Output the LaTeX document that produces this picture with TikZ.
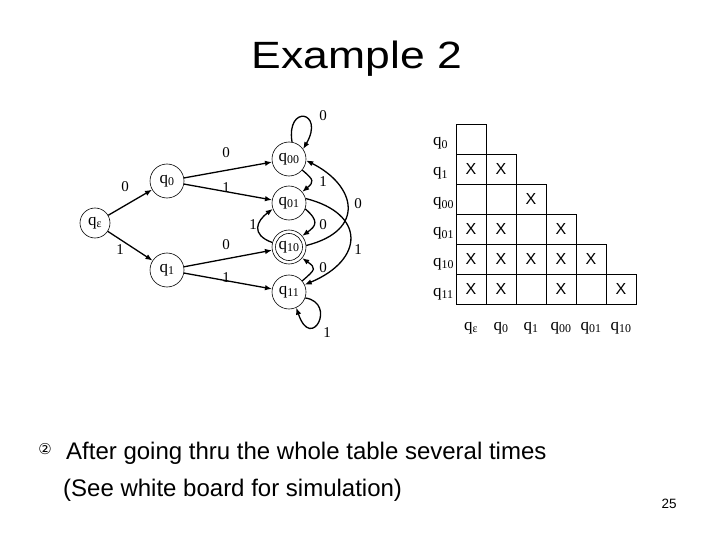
\documentclass[tikz,border=0pt]{standalone}
\usepackage{fontspec}
\usepackage{graphicx}
\setmainfont{Liberation Serif}
\newfontfamily\arialf{Liberation Sans}
\newfontfamily\dejavuf{DejaVu Sans}
\usetikzlibrary{arrows.meta}
\tikzset{
  stnode/.style={circle,draw,line width=0.6pt,minimum size=34pt,inner sep=0pt,font=\fontsize{17}{17}\selectfont},
  arr/.style={-{Latex[length=7pt,width=5.5pt]},line width=1.3pt},
  lbl/.style={font=\fontsize{15}{15}\selectfont,inner sep=0pt},
  rowlbl/.style={font=\fontsize{17}{17}\selectfont,inner sep=0pt,anchor=base west},
  collbl/.style={font=\fontsize{17}{17}\selectfont,inner sep=0pt,anchor=base},
  cell/.style={draw,line width=0.6pt,minimum size=30pt,inner sep=0pt,font=\arialf\fontsize{16}{16}\selectfont},
}
\newcommand{\qs}[1]{q\textsubscript{#1}}
\begin{document}
\begin{tikzpicture}[x=1pt,y=1pt]
\useasboundingbox (0,0) rectangle (720,-540);
% title
\node[font=\arialf\fontsize{38}{38}\selectfont,anchor=base] (title) at (357,-69) {\scalebox{1.17}[1]{Example 2}};
% states
\node[stnode,minimum size=30pt] (qe) at (95,-223) {\qs{ε}};
\node[stnode] (q0) at (167,-181) {\qs{0}};
\node[stnode] (q1) at (167,-270) {\qs{1}};
\node[stnode] (q00) at (289,-159) {\qs{00}};
\node[stnode] (q01) at (289,-203) {\qs{01}};
\node[stnode] (q10) at (289,-247) {\qs{10}};
\node[stnode] (q11) at (289,-292) {\qs{11}};
\draw[line width=0.6pt] (q10.center) circle (13.5pt);
% edges
\draw[arr] (qe) -- (q0);
\draw[arr] (qe) -- (q1);
\draw[arr] (q0) -- (q00);
\draw[arr] (q0) -- (q01);
\draw[arr] (q1) -- (q10);
\draw[arr] (q1) -- (q11);
\draw[arr] (q00.80) .. controls +(-6,38) and +(22,38) .. (q00.35);
\draw[arr] (q00.-40) .. controls +(12,-10) and +(12,10) .. (q01.40);
\draw[arr] (q01.-20) .. controls +(14,-12) and +(14,10) .. (q10.40);
\draw[arr] (q11.40) .. controls +(14,12) and +(14,-10) .. (q10.-40);
\draw[arr] (q10.165) .. controls +(-22,8) and +(-16,-12) .. (q01.-160);
\draw[arr] (q01.15) .. controls +(60,-15) and +(60,25) .. (q11.25);
\draw[arr] (q10.5) .. controls +(60,15) and +(50,-25) .. (q00.-5);
\draw[arr] (q11.-20) .. controls +(32,-5) and +(15,-45) .. (q11.-65);
% edge labels
\node[lbl] (l1) at (125,-187) {0};
\node[lbl] (l2) at (120,-250) {1};
\node[lbl] (l3) at (226,-153) {0};
\node[lbl] (l4) at (226,-188) {1};
\node[lbl] (l5) at (226,-245) {0};
\node[lbl] (l6) at (226,-278) {1};
\node[lbl] (l7) at (323,-116) {0};
\node[lbl] (l8) at (323,-182) {1};
\node[lbl] (l9) at (323,-225) {0};
\node[lbl] (l10) at (253,-225) {1};
\node[lbl] (l11) at (323,-268) {0};
\node[lbl] (l12) at (358,-204) {0};
\node[lbl] (l13) at (358,-250) {1};
\node[lbl] (l14) at (327,-333) {1};
% table
\foreach \lab [count=\i from 0] in {\qs{0},\qs{1},\qs{00},\qs{01},\qs{10},\qs{11}} {
  \node[rowlbl] (r\i) at (433,-146-30*\i) {\lab};
  \foreach \j in {0,...,\i} {
    \node[cell] (c\i\j) at (471+30*\j,-139-30*\i) {};
  }
}
\foreach \lab [count=\j from 0] in {\qs{ε},\qs{0},\qs{1},\qs{00},\qs{01},\qs{10}} {
  \node[collbl] (k\j) at (471+30*\j,-330) {\lab};
}
\foreach \c in {10,11,22,30,31,33,40,41,42,43,44,50,51,53,55} {
  \node[font=\arialf\fontsize{16}{16}\selectfont] at (c\c) {X};
}
% text
\node[font=\dejavuf\fontsize{15}{15}\selectfont] (bul) at (45,-449) {②};
\node[font=\arialf\fontsize{24}{24}\selectfont,anchor=base west,inner sep=0pt] (t1) at (66,-459) {After going thru the whole table several times};
\node[font=\arialf\fontsize{24}{24}\selectfont,anchor=base west,inner sep=0pt] (t2) at (63,-496) {(See white board for simulation)};
\node[font=\arialf\fontsize{13.5}{13.5}\selectfont,anchor=base] (pg) at (669,-508) {25};
\end{tikzpicture}
\end{document}
